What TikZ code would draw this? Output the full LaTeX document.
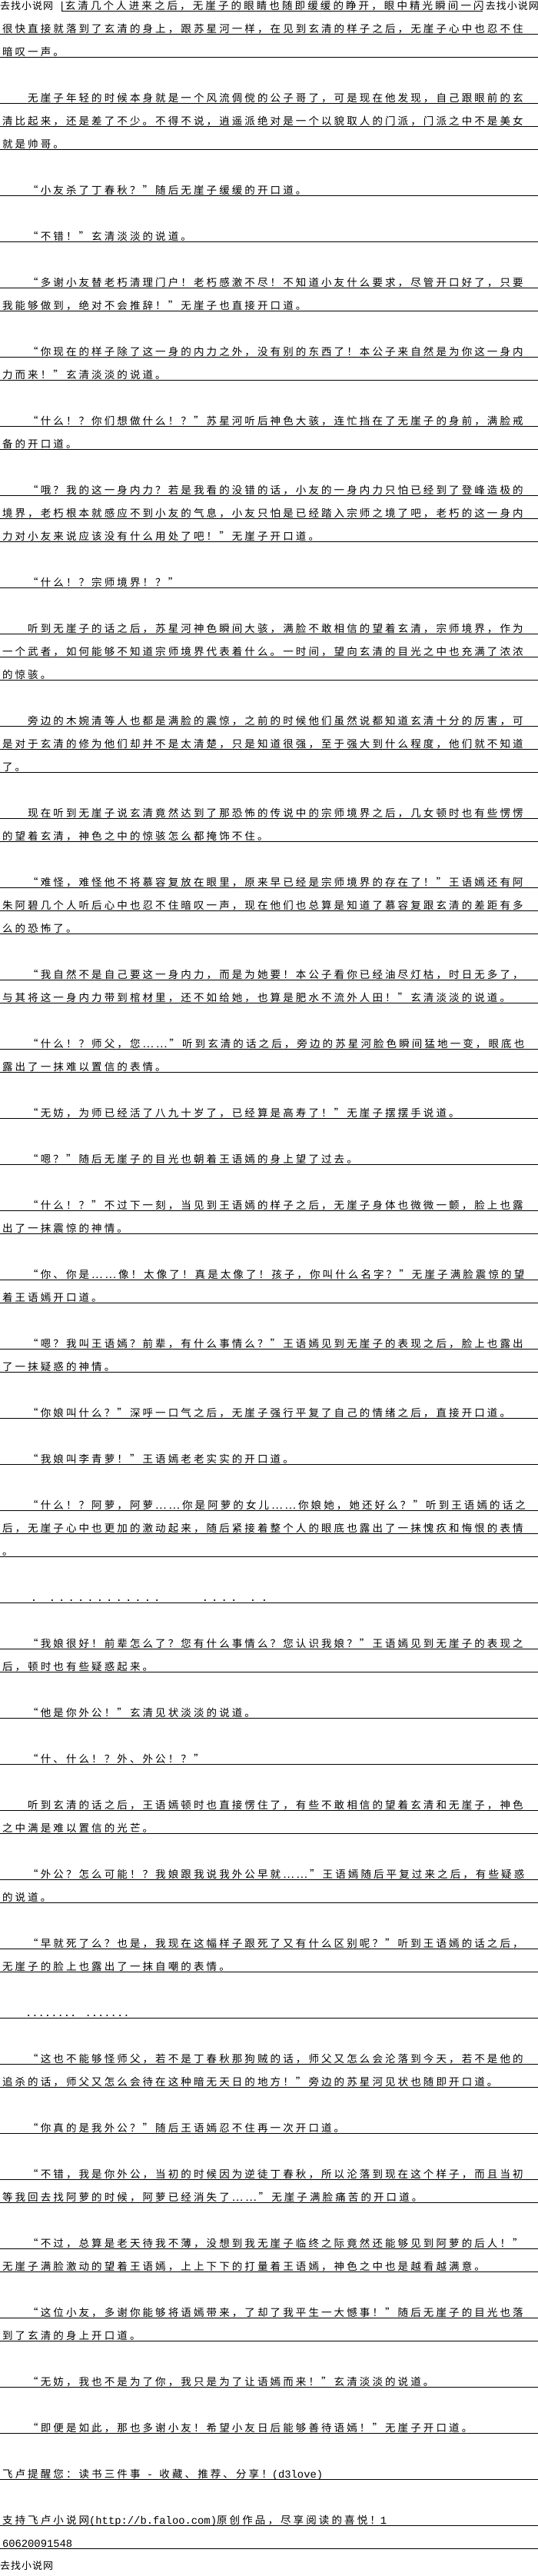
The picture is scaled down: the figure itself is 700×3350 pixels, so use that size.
\documentclass[tikz,border=0pt]{standalone}
\usepackage{fontspec}
\setmainfont{Noto Sans CJK SC}[LetterSpace=23]
\newfontfamily\wmfont{Noto Sans CJK SC}[LetterSpace=8]
\newfontfamily\ascfont{Liberation Mono}
\newcommand\A[1]{{\ascfont\fontsize{13.83}{14}\selectfont #1}}
\newcommand\Dt{\makebox[12.4pt][c]{\A{.}}}
\newcommand\Ln[3][3]{\node[txt] (L#2) at (#1,{12.5+30*#2}) {#3};
  \draw[rule] (0,{14.5+30*#2}) -- (700,{14.5+30*#2});}
\begin{document}
\begin{tikzpicture}[x=1pt,y=-1pt,
  txt/.style={anchor=base west, inner sep=0pt, outer sep=0pt, font=\fontsize{13.5}{14}\selectfont},
  wm/.style={txt, font=\wmfont\fontsize{13}{14}\selectfont},
  rule/.style={line width=1pt, draw=black}]
\fill[white] (0,0) rectangle (700,3350);
\useasboundingbox (0,0) rectangle (700,3350);
% first line
\node[wm] (wmA) at (0,12.5) {去找小说网};
\node[txt] (L0) at (76.5,12.5) {\A{|}玄清几个人进来之后，无崖子的眼睛也随即缓缓的睁开，眼中精光瞬间一闪};
\node[wm, anchor=base east] (wmB) at (701,12.5) {去找小说网};
\coordinate (u0a) at (80,14.5);
\coordinate (u0b) at (628,14.5);
\draw[rule] (u0a) -- (u0b);
\Ln{1}{很快直接就落到了玄清的身上，跟苏星河一样，在见到玄清的样子之后，无崖子心中也忍不住}
\Ln{2}{暗叹一声。}
\Ln{4}{　　无崖子年轻的时候本身就是一个风流倜傥的公子哥了，可是现在他发现，自己跟眼前的玄}
\Ln{5}{清比起来，还是差了不少。不得不说，逍遥派绝对是一个以貌取人的门派，门派之中不是美女}
\Ln{6}{就是帅哥。}
\Ln{8}{　　“小友杀了丁春秋？”随后无崖子缓缓的开口道。}
\Ln{10}{　　“不错！”玄清淡淡的说道。}
\Ln{12}{　　“多谢小友替老朽清理门户！老朽感激不尽！不知道小友什么要求，尽管开口好了，只要}
\Ln{13}{我能够做到，绝对不会推辞！”无崖子也直接开口道。}
\Ln{15}{　　“你现在的样子除了这一身的内力之外，没有别的东西了！本公子来自然是为你这一身内}
\Ln{16}{力而来！”玄清淡淡的说道。}
\Ln{18}{　　“什么！？你们想做什么！？”苏星河听后神色大骇，连忙挡在了无崖子的身前，满脸戒}
\Ln{19}{备的开口道。}
\Ln{21}{　　“哦？我的这一身内力？若是我看的没错的话，小友的一身内力只怕已经到了登峰造极的}
\Ln{22}{境界，老朽根本就感应不到小友的气息，小友只怕是已经踏入宗师之境了吧，老朽的这一身内}
\Ln{23}{力对小友来说应该没有什么用处了吧！”无崖子开口道。}
\Ln{25}{　　“什么！？宗师境界！？”}
\Ln{27}{　　听到无崖子的话之后，苏星河神色瞬间大骇，满脸不敢相信的望着玄清，宗师境界，作为}
\Ln{28}{一个武者，如何能够不知道宗师境界代表着什么。一时间，望向玄清的目光之中也充满了浓浓}
\Ln{29}{的惊骇。}
\Ln{31}{　　旁边的木婉清等人也都是满脸的震惊，之前的时候他们虽然说都知道玄清十分的厉害，可}
\Ln{32}{是对于玄清的修为他们却并不是太清楚，只是知道很强，至于强大到什么程度，他们就不知道}
\Ln{33}{了。}
\Ln{35}{　　现在听到无崖子说玄清竟然达到了那恐怖的传说中的宗师境界之后，几女顿时也有些愣愣}
\Ln{36}{的望着玄清，神色之中的惊骇怎么都掩饰不住。}
\Ln{38}{　　“难怪，难怪他不将慕容复放在眼里，原来早已经是宗师境界的存在了！”王语嫣还有阿}
\Ln{39}{朱阿碧几个人听后心中也忍不住暗叹一声，现在他们也总算是知道了慕容复跟玄清的差距有多}
\Ln{40}{么的恐怖了。}
\Ln{42}{　　“我自然不是自己要这一身内力，而是为她要！本公子看你已经油尽灯枯，时日无多了，}
\Ln{43}{与其将这一身内力带到棺材里，还不如给她，也算是肥水不流外人田！”玄清淡淡的说道。}
\Ln{45}{　　“什么！？师父，您……”听到玄清的话之后，旁边的苏星河脸色瞬间猛地一变，眼底也}
\Ln{46}{露出了一抹难以置信的表情。}
\Ln{48}{　　“无妨，为师已经活了八九十岁了，已经算是高寿了！”无崖子摆摆手说道。}
\Ln{50}{　　“嗯？”随后无崖子的目光也朝着王语嫣的身上望了过去。}
\Ln{52}{　　“什么！？”不过下一刻，当见到王语嫣的样子之后，无崖子身体也微微一颤，脸上也露}
\Ln{53}{出了一抹震惊的神情。}
\Ln{55}{　　“你、你是……像！太像了！真是太像了！孩子，你叫什么名字？”无崖子满脸震惊的望}
\Ln{56}{着王语嫣开口道。}
\Ln{58}{　　“嗯？我叫王语嫣？前辈，有什么事情么？”王语嫣见到无崖子的表现之后，脸上也露出}
\Ln{59}{了一抹疑惑的神情。}
\Ln{61}{　　“你娘叫什么？”深呼一口气之后，无崖子强行平复了自己的情绪之后，直接开口道。}
\Ln{63}{　　“我娘叫李青萝！”王语嫣老老实实的开口道。}
\Ln{65}{　　“什么！？阿萝，阿萝……你是阿萝的女儿……你娘她，她还好么？”听到王语嫣的话之}
\Ln{66}{后，无崖子心中也更加的激动起来，随后紧接着整个人的眼底也露出了一抹愧疚和悔恨的表情}
\Ln{67}{。}
\Ln[37.8]{69}{\Dt\hspace{11.6pt}\Dt\Dt\Dt\Dt\Dt\Dt\Dt\Dt\Dt\Dt\Dt\Dt\hspace{50.2pt}\Dt\Dt\Dt\Dt\hspace{12.4pt}\Dt\hspace{2.6pt}\Dt}
\Ln{71}{　　“我娘很好！前辈怎么了？您有什么事情么？您认识我娘？”王语嫣见到无崖子的表现之}
\Ln{72}{后，顿时也有些疑惑起来。}
\Ln{74}{　　“他是你外公！”玄清见状淡淡的说道。}
\Ln{76}{　　“什、什么！？外、外公！？”}
\Ln{78}{　　听到玄清的话之后，王语嫣顿时也直接愣住了，有些不敢相信的望着玄清和无崖子，神色}
\Ln{79}{之中满是难以置信的光芒。}
\Ln{81}{　　“外公？怎么可能！？我娘跟我说我外公早就……”王语嫣随后平复过来之后，有些疑惑}
\Ln{82}{的说道。}
\Ln{84}{　　“早就死了么？也是，我现在这幅样子跟死了又有什么区别呢？”听到王语嫣的话之后，}
\Ln{85}{无崖子的脸上也露出了一抹自嘲的表情。}
\Ln{87}{　　\A{........ .......}}
\Ln{89}{　　“这也不能够怪师父，若不是丁春秋那狗贼的话，师父又怎么会沦落到今天，若不是他的}
\Ln{90}{追杀的话，师父又怎么会待在这种暗无天日的地方！”旁边的苏星河见状也随即开口道。}
\Ln{92}{　　“你真的是我外公？”随后王语嫣忍不住再一次开口道。}
\Ln{94}{　　“不错，我是你外公，当初的时候因为逆徒丁春秋，所以沦落到现在这个样子，而且当初}
\Ln{95}{等我回去找阿萝的时候，阿萝已经消失了……”无崖子满脸痛苦的开口道。}
\Ln{97}{　　“不过，总算是老天待我不薄，没想到我无崖子临终之际竟然还能够见到阿萝的后人！”}
\Ln{98}{无崖子满脸激动的望着王语嫣，上上下下的打量着王语嫣，神色之中也是越看越满意。}
\Ln{100}{　　“这位小友，多谢你能够将语嫣带来，了却了我平生一大憾事！”随后无崖子的目光也落}
\Ln{101}{到了玄清的身上开口道。}
\Ln{103}{　　“无妨，我也不是为了你，我只是为了让语嫣而来！”玄清淡淡的说道。}
\Ln{105}{　　“即便是如此，那也多谢小友！希望小友日后能够善待语嫣！”无崖子开口道。}
\Ln{107}{飞卢提醒您：读书三件事\A{ - }收藏、推荐、分享！\A{(d3love)}}
\Ln{109}{支持飞卢小说网\A{(http://b.faloo.com)}原创作品，尽享阅读的喜悦！\A{1}}
\Ln{110}{\A{60620091548}}
\node[wm] (wmC) at (0,3341) {去找小说网};
\end{tikzpicture}
\end{document}
